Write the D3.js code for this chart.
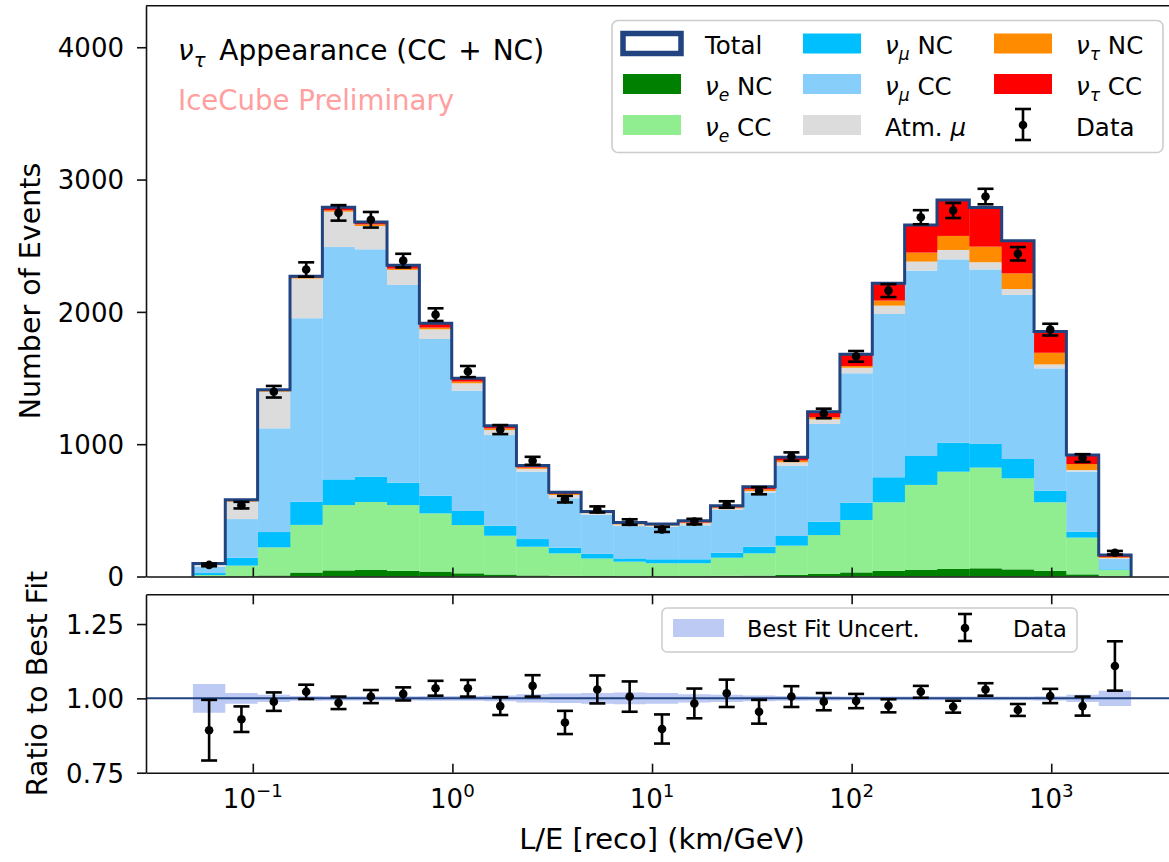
<!DOCTYPE html>
<html>
<head>
<meta charset="utf-8">
<script src="https://cdn.jsdelivr.net/npm/d3@7"></script>
<style>
  body { margin: 0; background: #fff; }
  svg { display: block; }
  text { font-family: "DejaVu Sans", sans-serif; fill: #000; }
</style>
</head>
<body>
<svg id="chart" width="1169" height="862"></svg>
<script>
// L/E bin edges (km/GeV), log spaced
const binEdges = [0.05012, 0.07280, 0.1057, 0.1536, 0.2231, 0.3239, 0.4703, 0.6831, 0.9921,
    1.441, 2.093, 3.039, 4.414, 6.410, 9.311, 13.52, 19.64, 28.52, 41.42, 60.16, 87.37,
    126.9, 184.3, 267.7, 388.7, 564.6, 820.0, 1191, 1729, 2512];

// stacked MC expectation per bin (events)
const nueNC   = [1, 3, 8, 30, 46, 49, 42, 37, 24, 15, 8, 5, 4, 3, 3, 3, 5, 7, 12, 19, 31, 42, 49, 57, 62, 54, 42, 16, 3];
const nueCC   = [10, 79, 212, 360, 494, 514, 498, 440, 365, 293, 217, 170, 132, 109, 97, 97, 137, 168, 221, 294, 396, 519, 643, 735, 761, 688, 519, 278, 46];
const numuNC  = [15, 60, 116, 175, 194, 192, 169, 134, 106, 76, 58, 43, 36, 25, 30, 30, 38, 50, 73, 101, 131, 189, 219, 219, 179, 146, 88, 45, 5];
const numuCC  = [48, 292, 784, 1387, 1756, 1718, 1494, 1184, 910, 685, 509, 373, 295, 244, 247, 257, 323, 409, 529, 739, 978, 1234, 1401, 1386, 1319, 1240, 924, 454, 78];
const atmMu   = [18, 131, 277, 300, 267, 176, 114, 73, 55, 38, 22, 25, 12, 12, 8, 15, 12, 12, 28, 35, 42, 63, 68, 71, 54, 45, 30, 12, 8];
const nutauNC = [2, 5, 5, 6, 10, 12, 10, 13, 13, 12, 9, 8, 5, 5, 4, 6, 7, 12, 13, 15, 13, 38, 68, 106, 118, 118, 88, 45, 6];
const nutauCC = [4, 10, 10, 12, 23, 19, 25, 33, 25, 21, 16, 12, 8, 11, 8, 14, 13, 21, 25, 43, 88, 131, 209, 272, 295, 247, 160, 69, 16];

// data / best fit and its error, best fit uncertainty (half width)
const ratio    = [0.893, 0.930, 0.989, 1.022, 0.985, 1.006, 1.015, 1.034, 1.034, 0.974, 1.042, 0.919, 1.030, 1.006, 0.897,
                  0.983, 1.017, 0.955, 1.006, 0.989, 0.991, 0.975, 1.022, 0.972, 1.030, 0.961, 1.008, 0.974, 1.109];
const ratioErr = [0.102, 0.043, 0.031, 0.024, 0.021, 0.022, 0.022, 0.025, 0.028, 0.030, 0.036, 0.039, 0.047, 0.051, 0.049,
                  0.050, 0.046, 0.040, 0.035, 0.029, 0.024, 0.022, 0.020, 0.020, 0.021, 0.020, 0.024, 0.032, 0.083];
const fitUncert = [0.048, 0.018, 0.012, 0.008, 0.007, 0.007, 0.007, 0.008, 0.008, 0.010, 0.014, 0.016, 0.018, 0.020, 0.018,
                   0.014, 0.012, 0.010, 0.008, 0.007, 0.006, 0.006, 0.006, 0.006, 0.006, 0.006, 0.007, 0.012, 0.026];

const yTicksTop = [0, 1000, 2000, 3000, 4000];
const yTicksRatio = [0.75, 1.00, 1.25];
const xTicks = [0.1, 1, 10, 100, 1000];
const xTickExp = ["−1", "0", "1", "2", "3"];

const navy = "#21437f";
const tickFont = 26;

const layers = [
    {key: "nueNC", values: nueNC, color: "#008000", label: [{t: "ν", i: 1}, {t: "e", sub: 1, i: 1}, {t: " NC"}]},
    {key: "nueCC", values: nueCC, color: "#90ee90", label: [{t: "ν", i: 1}, {t: "e", sub: 1, i: 1}, {t: " CC"}]},
    {key: "numuNC", values: numuNC, color: "#00bfff", label: [{t: "ν", i: 1}, {t: "μ", sub: 1, i: 1}, {t: " NC"}]},
    {key: "numuCC", values: numuCC, color: "#87cefa", label: [{t: "ν", i: 1}, {t: "μ", sub: 1, i: 1}, {t: " CC"}]},
    {key: "atmMu", values: atmMu, color: "#dcdcdc", label: [{t: "Atm. "}, {t: "μ", i: 1}]},
    {key: "nutauNC", values: nutauNC, color: "#ff8c00", label: [{t: "ν", i: 1}, {t: "τ", sub: 1, i: 1}, {t: " NC"}]},
    {key: "nutauCC", values: nutauCC, color: "#ff0000", label: [{t: "ν", i: 1}, {t: "τ", sub: 1, i: 1}, {t: " CC"}]}
];

const nBins = binEdges.length - 1;
const bins = d3.range(nBins).map(i => {
    let row = {lo: binEdges[i], hi: binEdges[i + 1]};
    layers.forEach(l => row[l.key] = l.values[i]);
    return row;
});
const stacked = d3.stack().keys(layers.map(l => l.key))(bins);
const totals = bins.map(b => d3.sum(layers, l => b[l.key]));

const svg = d3.select("#chart");
svg.append("rect").attr("width", 1169).attr("height", 862).attr("fill", "#fff");

const x = d3.scaleLog().domain([0.02917, 4315]).range([146, 1178]);
const yTop = d3.scaleLinear().domain([0, 4314]).range([576.5, 5.7]);
const yRat = d3.scaleLinear().domain([0.75, 1.35]).range([772.7, 594.3]);

// rich text with italic / sub / superscripts
function rich(sel, tokens, size) {
    let shift = 0;
    tokens.forEach(tok => {
        let target = tok.sub ? size * 0.26 : tok.sup ? -size * 0.42 : 0;
        let ts = sel.append("tspan").text(tok.t).attr("dy", target - shift);
        shift = target;
        if (tok.sub || tok.sup) ts.attr("font-size", size * 0.7);
        if (tok.i) ts.attr("font-style", "italic");
        if (tok.dx) ts.attr("dx", tok.dx);
    });
    return sel;
}

// ---------- top panel ----------
const topPanel = svg.append("g");

topPanel.append("g").selectAll("g")
    .data(stacked)
    .join("g")
    .attr("fill", (d, i) => layers[i].color)
    .selectAll("rect")
    .data(d => d)
    .join("rect")
    .attr("x", d => x(d.data.lo))
    .attr("width", d => x(d.data.hi) - x(d.data.lo) + 0.3)
    .attr("y", d => yTop(d[1]))
    .attr("height", d => Math.max(0, yTop(d[0]) - yTop(d[1])));

// total step outline
let stepPts = [[binEdges[0], 0]];
bins.forEach((b, i) => { stepPts.push([b.lo, totals[i]]); stepPts.push([b.hi, totals[i]]); });
stepPts.push([binEdges[nBins], 0]);
topPanel.append("path")
    .datum(stepPts)
    .attr("fill", "none")
    .attr("stroke", navy)
    .attr("stroke-width", 3)
    .attr("stroke-linejoin", "miter")
    .attr("d", d3.line().x(d => x(d[0])).y(d => yTop(d[1])));

// data points
function errorBars(g, xs, ys, lo, hi, capW) {
    const gg = g.append("g").attr("stroke", "#000").attr("stroke-width", 2.6);
    xs.forEach((xv, i) => {
        gg.append("line").attr("x1", xv).attr("x2", xv).attr("y1", lo[i]).attr("y2", hi[i]);
        gg.append("line").attr("x1", xv - capW).attr("x2", xv + capW).attr("y1", lo[i]).attr("y2", lo[i]);
        gg.append("line").attr("x1", xv - capW).attr("x2", xv + capW).attr("y1", hi[i]).attr("y2", hi[i]);
        g.append("circle").attr("cx", xv).attr("cy", ys[i]).attr("r", 4.3).attr("fill", "#000");
    });
}
const centers = bins.map(b => Math.sqrt(b.lo * b.hi));
const dataVals = totals.map((t, i) => t * ratio[i]);
const dataErr = totals.map((t, i) => t * ratioErr[i]);
errorBars(topPanel, centers.map(c => x(c)), dataVals.map(v => yTop(v)),
    dataVals.map((v, i) => yTop(v - dataErr[i])), dataVals.map((v, i) => yTop(v + dataErr[i])), 8);

// axes top
const yAxisTop = d3.axisLeft(yTop).tickValues(yTicksTop).tickSize(9).tickPadding(13).tickSizeOuter(0)
    .tickFormat(d3.format("d"));
const gyt = topPanel.append("g").attr("transform", "translate(146,0)").call(yAxisTop);
const xAxisTop = d3.axisBottom(x).tickValues(xTicks).tickSize(-9).tickSizeOuter(0).tickFormat("");
const gxt = topPanel.append("g").attr("transform", "translate(0,576.5)").call(xAxisTop);
topPanel.append("line").attr("x1", 146).attr("x2", 1178).attr("y1", 5.7).attr("y2", 5.7)
    .attr("stroke", "#111").attr("stroke-width", 1.6);

// ---------- ratio panel ----------
const botPanel = svg.append("g");
let bandPts = [];
bins.forEach((b, i) => { bandPts.push({x: b.lo, u: fitUncert[i]}); bandPts.push({x: b.hi, u: fitUncert[i]}); });
botPanel.append("path")
    .datum(bandPts)
    .attr("fill", "#bccaf4")
    .attr("d", d3.area().x(d => x(d.x)).y0(d => yRat(1 - d.u)).y1(d => yRat(1 + d.u)));
botPanel.append("line")
    .attr("x1", x.range()[0]).attr("x2", x.range()[1])
    .attr("y1", yRat(1)).attr("y2", yRat(1))
    .attr("stroke", navy).attr("stroke-width", 2);
errorBars(botPanel, centers.map(c => x(c)), ratio.map(v => yRat(v)),
    ratio.map((v, i) => yRat(v - ratioErr[i])), ratio.map((v, i) => yRat(v + ratioErr[i])), 8);

const yAxisRat = d3.axisLeft(yRat).tickValues(yTicksRatio).tickSize(9).tickPadding(13).tickSizeOuter(0)
    .tickFormat(d3.format(".2f"));
const gyr = botPanel.append("g").attr("transform", "translate(146,0)").call(yAxisRat);
const gxb = botPanel.append("g").attr("transform", "translate(0,772.7)")
    .call(d3.axisBottom(x).tickValues(xTicks).tickSize(-9).tickSizeOuter(0).tickFormat(""));
const gxr = botPanel.append("g").attr("transform", "translate(0,594.3)")
    .call(d3.axisTop(x).tickValues(xTicks).tickSize(-10).tickSizeOuter(0).tickFormat(""));

// x tick labels 10^n
xTicks.forEach((v, i) => {
    const t = botPanel.append("text").attr("x", x(v)).attr("y", 808).attr("text-anchor", "middle").attr("font-size", tickFont);
    rich(t, [{t: "10"}, {t: xTickExp[i], sup: 1}], tickFont);
});

[gyt, gxt, gyr, gxb, gxr].forEach(g => {
    g.select(".domain").attr("stroke", "#111").attr("stroke-width", 1.6);
    g.selectAll(".tick line").attr("stroke", "#111").attr("stroke-width", 1.6);
    g.selectAll(".tick text").attr("font-size", tickFont).attr("font-family", "'DejaVu Sans', sans-serif")
        .attr("fill", "#000").attr("dy", "0.36em");
});

// axis labels
svg.append("text").attr("transform", "translate(40,291) rotate(-90)").attr("text-anchor", "middle")
    .attr("font-size", 28.5).text("Number of Events");
svg.append("text").attr("transform", "translate(47,683.5) rotate(-90)").attr("text-anchor", "middle")
    .attr("font-size", 28.5).text("Ratio to Best Fit");
svg.append("text").attr("x", 662).attr("y", 849).attr("text-anchor", "middle")
    .attr("font-size", 29).text("L/E [reco] (km/GeV)");

// title texts
rich(svg.append("text").attr("x", 178).attr("y", 60).attr("font-size", 28),
    [{t: "ν", i: 1}, {t: "τ", sub: 1, i: 1}, {t: " Appearance (CC ", dx: 5}, {t: "+", dx: 3}, {t: " NC)", dx: 2}], 28);
svg.append("text").attr("x", 178).attr("y", 110).attr("font-size", 27.6).style("fill", "#ffa0a0")
    .text("IceCube Preliminary");

// ---------- legends ----------
const legFont = 24.5;
const leg = svg.append("g");
leg.append("rect").attr("x", 612).attr("y", 20.5).attr("width", 551).attr("height", 132).attr("rx", 6)
    .attr("fill", "#fff").attr("fill-opacity", 0.85).attr("stroke", "#cccccc").attr("stroke-width", 1.6);
const colX = [623, 803, 994];
const rowY = [43.5, 84, 125];
const legItems = [
    {type: "total", label: [{t: "Total"}]},
    layers[0], layers[1], layers[2], layers[3], layers[4], layers[5], layers[6],
    {type: "data", label: [{t: "Data"}]}
];
legItems.forEach((it, k) => {
    const cx = colX[Math.floor(k / 3)], cy = rowY[k % 3];
    if (it.type === "total") {
        leg.append("rect").attr("x", cx).attr("y", cy - 10).attr("width", 58).attr("height", 20)
            .attr("fill", "#fff").attr("stroke", navy).attr("stroke-width", 5.5);
    } else if (it.type === "data") {
        const g = leg.append("g").attr("stroke", "#000").attr("stroke-width", 2.6);
        g.append("line").attr("x1", cx + 29).attr("x2", cx + 29).attr("y1", cy - 16).attr("y2", cy + 15);
        g.append("line").attr("x1", cx + 21).attr("x2", cx + 37).attr("y1", cy - 16).attr("y2", cy - 16);
        g.append("line").attr("x1", cx + 21).attr("x2", cx + 37).attr("y1", cy + 15).attr("y2", cy + 15);
        leg.append("circle").attr("cx", cx + 29).attr("cy", cy).attr("r", 4.3).attr("fill", "#000");
    } else {
        leg.append("rect").attr("x", cx).attr("y", cy - 10).attr("width", 58).attr("height", 20).attr("fill", it.color);
    }
    rich(leg.append("text").attr("x", cx + 82).attr("y", cy + 10.5).attr("font-size", legFont), it.label, legFont);
});

const leg2 = svg.append("g");
leg2.append("rect").attr("x", 662).attr("y", 608).attr("width", 415).attr("height", 44).attr("rx", 5)
    .attr("fill", "#fff").attr("fill-opacity", 0.85).attr("stroke", "#cccccc").attr("stroke-width", 1.5);
leg2.append("rect").attr("x", 673).attr("y", 619).attr("width", 51).attr("height", 18).attr("fill", "#bccaf4");
leg2.append("text").attr("x", 747).attr("y", 637).attr("font-size", 22.5).text("Best Fit Uncert.");
const dg = leg2.append("g").attr("stroke", "#000").attr("stroke-width", 2.6);
dg.append("line").attr("x1", 965).attr("x2", 965).attr("y1", 614).attr("y2", 641);
dg.append("line").attr("x1", 958).attr("x2", 972).attr("y1", 614).attr("y2", 614);
dg.append("line").attr("x1", 958).attr("x2", 972).attr("y1", 641).attr("y2", 641);
leg2.append("circle").attr("cx", 965).attr("cy", 628).attr("r", 4.3).attr("fill", "#000");
leg2.append("text").attr("x", 1013).attr("y", 637).attr("font-size", 22.5).text("Data");
</script>
</body>
</html>
